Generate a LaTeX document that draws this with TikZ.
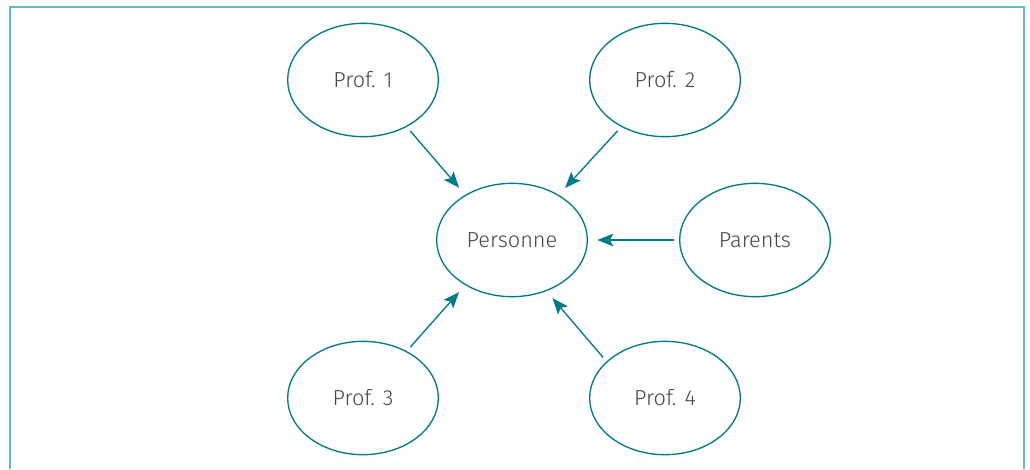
\documentclass[tikz,border=0pt]{standalone}
\usepackage{fontspec}
\setmainfont{Fira Sans}[UprightFont=* Light]
\usetikzlibrary{shapes.geometric, arrows.meta}
\definecolor{framecol}{RGB}{98, 186, 198}
\definecolor{linecol}{RGB}{0, 122, 135}
\definecolor{textcol}{RGB}{70, 70, 70}
\tikzset{
    x=0.75pt, y=-0.75pt,
    bubble/.style={ellipse, draw=linecol, line width=1pt, minimum width=113pt,
        minimum height=85pt, inner sep=0pt, text=textcol,
        font=\fontsize{16.3}{19}\selectfont},
    toward/.style={draw=linecol, line width=1pt,
        -{Stealth[length=12pt, width=9.5pt, inset=2.5pt]}},
}
\begin{document}
\begin{tikzpicture}
    \useasboundingbox (0, 0) rectangle (1030, 469);
    \draw[framecol, line width=1.4pt] (10, 469) -- (10, 7) -- (1024, 7)
        -- (1024, 469);
    \node[bubble] (prof1) at (363, 80) {Prof. 1};
    \node[bubble] (prof2) at (665, 80) {Prof. 2};
    \node[bubble] (personne) at (512, 240) {Personne};
    \node[bubble] (parents) at (755, 240) {Parents};
    \node[bubble] (prof3) at (363, 398) {Prof. 3};
    \node[bubble] (prof4) at (665, 398) {Prof. 4};
    \draw[toward, shorten <=4pt, shorten >=7pt] (prof1.-47) -- (personne.136);
    \draw[toward, shorten <=4pt, shorten >=7pt] (prof2.-133) -- (personne.44);
    \draw[toward, shorten <=4pt, shorten >=7pt] (parents.180) -- (personne.0);
    \draw[toward, shorten <=4pt, shorten >=7pt] (prof3.47) -- (personne.-136);
    \draw[toward, shorten <=4pt, shorten >=7pt] (prof4.148) -- (personne.-56);
\end{tikzpicture}
\end{document}
